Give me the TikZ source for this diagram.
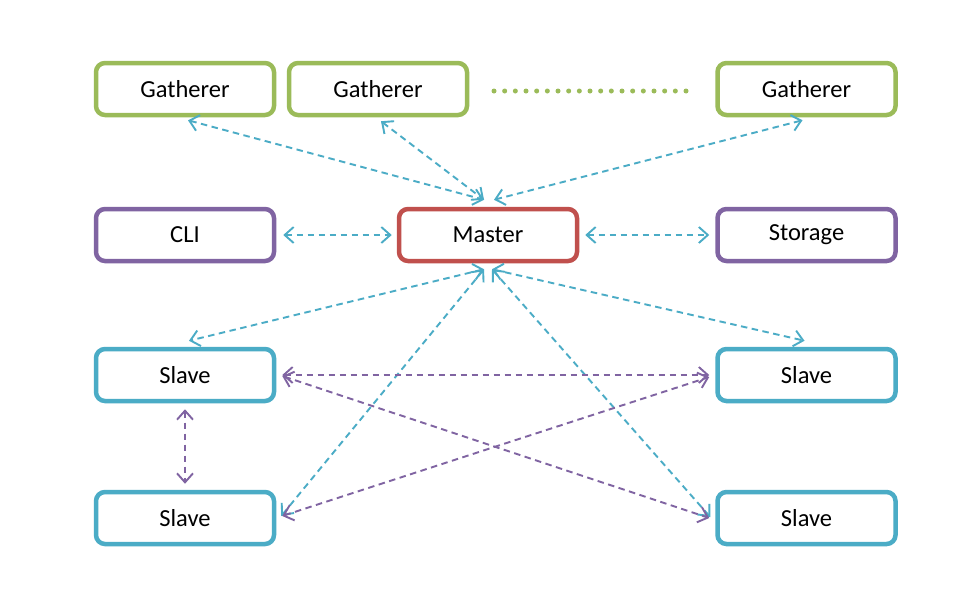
\documentclass[tikz,border=0pt]{standalone}
\usepackage{fontspec}
\setmainfont{Carlito}
\usetikzlibrary{arrows.meta}
\definecolor{cgreen}{HTML}{9BBB59}
\definecolor{cpurple}{HTML}{8064A2}
\definecolor{cred}{HTML}{C0504D}
\definecolor{ccyan}{HTML}{4BACC6}
\tikzset{
  box/.style={draw, line width=4.5pt, rounded corners=9pt, minimum width=178pt, minimum height=52pt, inner sep=0pt, fill=white, font=\fontsize{24.5}{28}\selectfont},
  gbox/.style={box, draw=cgreen},
  pbox/.style={box, draw=cpurple},
  rbox/.style={box, draw=cred},
  cbox/.style={box, draw=ccyan},
  link/.style={line width=1.9pt, dash pattern=on 6.5pt off 4.5pt, {Straight Barb[length=9pt,width=16pt,line width=1.9pt]}-{Straight Barb[length=9pt,width=16pt,line width=1.9pt]}},
  cyl/.style={link, draw=ccyan},
  pul/.style={link, draw=cpurple},
}
\begin{document}
\begin{tikzpicture}[x=1pt,y=-1pt]
\path[fill=white] (0,0) rectangle (975,611);
\useasboundingbox (0,0) rectangle (975,611);
\node[gbox] (g1) at (185,89) {Gatherer};
\node[gbox] (g2) at (378,89) {Gatherer};
\node[gbox] (g3) at (806.5,89) {Gatherer};
\node[pbox] (cli) at (185,235) {CLI};
\node[rbox] (m) at (488,235) {Master};
\node[pbox] (st) at (806.5,235) {Storage};
\node[cbox] (sl1) at (185,375) {Slave};
\node[cbox] (sr1) at (806.5,375) {Slave};
\node[cbox] (sl2) at (185,518) {Slave};
\node[cbox] (sr2) at (806.5,518) {Slave};
\coordinate (d1) at (494,91);
\coordinate (d2) at (687,91);
\draw[cgreen, line width=5pt, line cap=round, dash pattern=on 0pt off 10.667pt] (d1) -- (d2);
% cyan links
\draw[cyl] ([shift={(3,3)}]g1.south) -- ([shift={(-4,-7)}]m.north);
\draw[cyl] ([shift={(3,4)}]g2.south) -- ([shift={(-4,-7)}]m.north);
\draw[cyl] ([shift={(-4,3)}]g3.south) -- ([shift={(6,-7)}]m.north);
\draw[cyl] ([shift={(7,0)}]cli.east) -- ([shift={(-5,0)}]m.west);
\draw[cyl] ([shift={(6,0)}]m.east) -- ([shift={(-6,0)}]st.west);
\draw[cyl] ([shift={(-4,6)}]m.south) -- ([shift={(4,-6)}]sl1.north);
\draw[cyl] ([shift={(4,6)}]m.south) -- ([shift={(-2,-6)}]sr1.north);
\draw[cyl] ([shift={(-4,6)}]m.south) -- ([shift={(5,-2)}]sl2.east);
\draw[cyl] ([shift={(4,6)}]m.south) -- ([shift={(-5,-1)}]sr2.west);
% purple links
\draw[pul] ([shift={(6,0)}]sl1.east) -- ([shift={(-6,0)}]sr1.west);
\draw[pul] ([shift={(6,1)}]sl1.east) -- ([shift={(-6,0)}]sr2.west);
\draw[pul] ([shift={(6,-2)}]sl2.east) -- ([shift={(-6,2)}]sr1.west);
\draw[pul] ([shift={(0,6)}]sl1.south) -- ([shift={(0,-6)}]sl2.north);
\end{tikzpicture}
\end{document}
